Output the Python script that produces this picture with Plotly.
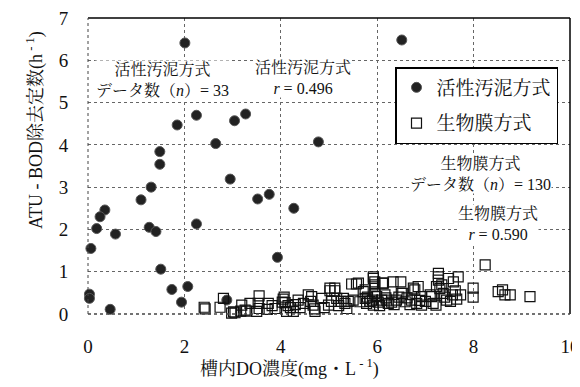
import plotly.graph_objects as go

# 活性汚泥方式 (n = 33)
as_x = [2.01, 6.51, 2.25, 1.85, 3.04, 3.27, 2.65, 1.49, 1.49, 2.95, 3.76, 3.52, 1.31, 1.10,
        0.35, 0.25, 0.18, 0.57, 1.27, 1.41, 2.25, 0.06, 1.51, 1.74, 2.07, 1.94, 0.03, 0.03,
        0.46, 2.88, 4.78, 4.27, 3.93]
as_y = [6.41, 6.48, 4.70, 4.47, 4.57, 4.73, 4.03, 3.84, 3.54, 3.19, 2.83, 2.72, 3.00, 2.70,
        2.46, 2.30, 2.02, 1.89, 2.05, 1.95, 2.13, 1.55, 1.06, 0.58, 0.65, 0.28, 0.47, 0.37,
        0.11, 0.33, 4.07, 2.50, 1.34]

# 生物膜方式 (n = 130)
bf_x = [2.41, 2.43, 2.74, 2.81, 2.98, 3.02, 3.05, 3.17, 3.26, 3.19, 3.36, 3.29, 3.55, 3.53, 3.50, 3.55,
        3.74, 3.72, 3.88, 3.82, 4.05, 4.07, 4.09, 4.12, 4.15, 4.03, 4.26, 4.20, 4.36, 4.47, 4.40, 4.30,
        4.57, 4.64, 4.67, 4.71, 4.62, 4.70, 4.85, 4.90, 4.99, 5.02, 5.02, 5.12, 5.12, 5.16, 5.05, 5.20,
        5.30, 5.33, 5.37, 5.25, 5.40, 5.47, 5.50,
        5.57, 5.61, 5.64, 5.71, 5.75, 5.75, 5.78, 5.80, 5.85, 5.92, 5.92, 5.95, 5.95, 5.95, 5.99, 5.92,
        5.90, 6.02, 6.09, 6.05, 6.11, 6.13, 6.16, 6.20, 6.23, 6.18, 6.30, 6.33, 6.40, 6.35, 6.45,
        6.49, 6.50, 6.53, 6.58, 6.62, 6.71, 6.68, 6.75, 6.78, 6.85, 6.82, 6.92, 6.92, 6.88, 7.00, 7.10,
        7.13, 7.16, 7.22, 7.27, 7.27, 7.27, 7.23, 7.30, 7.34, 7.37, 7.44, 7.40, 7.48,
        7.58, 7.68, 7.56, 7.73, 7.62, 7.99, 7.99, 8.24, 8.51, 8.60, 8.65, 8.76, 9.17, 7.52, 7.65]
bf_y = [0.16, 0.12, 0.16, 0.37, 0.02, 0.05, 0.03, 0.07, 0.09, 0.21, 0.25, 0.07, 0.43, 0.25, 0.06, 0.13,
        0.25, 0.11, 0.13, 0.20, 0.35, 0.40, 0.27, 0.06, 0.20, 0.28, 0.06, 0.15, 0.33, 0.25, 0.15, 0.22,
        0.45, 0.41, 0.21, 0.06, 0.30, 0.12, 0.37, 0.15, 0.21, 0.55, 0.61, 0.55, 0.61, 0.37, 0.30, 0.20,
        0.37, 0.25, 0.13, 0.30, 0.30, 0.71, 0.33,
        0.71, 0.73, 0.29, 0.53, 0.37, 0.57, 0.25, 0.40, 0.30, 0.84, 0.88, 0.69, 0.76, 0.49, 0.41, 0.21,
        0.33, 0.28, 0.33, 0.20, 0.73, 0.73, 0.45, 0.33, 0.25, 0.38, 0.28, 0.76, 0.33, 0.22, 0.40,
        0.76, 0.49, 0.49, 0.29, 0.38, 0.33, 0.22, 0.61, 0.57, 0.65, 0.25, 0.41, 0.21, 0.32, 0.30, 0.45,
        0.41, 0.25, 0.21, 0.96, 0.88, 0.80, 0.65, 0.60, 0.69, 0.49, 0.33, 0.40, 0.84,
        0.76, 0.88, 0.45, 0.45, 0.55, 0.61, 0.40, 1.16, 0.53, 0.57, 0.45, 0.45, 0.41, 0.30, 0.35]

x_ticks = [0, 2, 4, 6, 8, 10]
y_ticks = [0, 1, 2, 3, 4, 5, 6, 7]

SERIF = "Liberation Serif, Noto Serif CJK JP, Noto Sans CJK JP, serif"

fig = go.Figure()
fig.add_trace(go.Scatter(
    x=as_x, y=as_y, mode="markers", name="活性汚泥方式", legendgroup="as",
    marker=dict(symbol="circle", size=10, color="#222222", line=dict(color="#555555", width=1)),
    cliponaxis=False,
))
fig.add_trace(go.Scatter(
    x=bf_x, y=bf_y, mode="markers", name="生物膜方式", legendgroup="bf",
    marker=dict(symbol="square-open", size=10, color="#111111", line=dict(width=1.2)),
    cliponaxis=False,
))

axis_common = dict(
    showgrid=True, gridcolor="#666666", griddash="dot", gridwidth=1,
    zeroline=False, showline=False, ticks="outside", tickcolor="rgba(0,0,0,0)",
    automargin=False, ticklabeloverflow="allow",
    tickfont=dict(family=SERIF, size=19, color="#111111"),
)
fig.update_xaxes(range=[0, 10], tickvals=x_ticks, ticklen=15, **axis_common)
fig.update_yaxes(range=[0, 7], tickvals=y_ticks, ticklen=15, **axis_common)

# frame: top/right solid, left/bottom dotted
fig.add_shape(type="line", xref="paper", yref="paper", x0=0, x1=1, y0=1, y1=1,
              line=dict(color="black", width=1.5))
fig.add_shape(type="line", xref="paper", yref="paper", x0=1, x1=1, y0=0, y1=1,
              line=dict(color="black", width=1.5))
fig.add_shape(type="line", xref="paper", yref="paper", x0=0, x1=0, y0=0, y1=1,
              line=dict(color="#444444", width=1, dash="dot"))
fig.add_shape(type="line", xref="paper", yref="paper", x0=0, x1=1, y0=0, y1=0,
              line=dict(color="#444444", width=1.5, dash="dot"))

def ann(text, x, y, size=16):
    fig.add_annotation(text=text, x=x, y=y, xref="x", yref="y", showarrow=False,
                       xanchor="center", yanchor="middle", align="center",
                       font=dict(family=SERIF, size=size, color="#111111"),
                       bgcolor="white", borderpad=0)

ann("活性汚泥方式<br>データ数（<i>n</i>）= 33", 1.55, 5.53)
ann("活性汚泥方式<br><i>r</i> = 0.496", 4.47, 5.58)
ann("生物膜方式<br>データ数（<i>n</i>）= 130", 8.14, 3.31)
ann("生物膜方式<br><i>r</i> = 0.590", 8.51, 2.12)

fig.add_annotation(text="槽内DO濃度(mg・L<sup> - 1</sup>)", xref="paper", yref="paper",
                   x=(289 - 88) / 482, y=-(368 - 314) / 296, showarrow=False,
                   xanchor="center", yanchor="middle",
                   font=dict(family=SERIF, size=18, color="#111111"))
fig.add_annotation(text="ATU - BOD除去定数(h<sup> - 1</sup>)", xref="paper", yref="paper",
                   x=-(88 - 35) / 482, y=(314 - 130) / 296, showarrow=False, textangle=-90,
                   xanchor="center", yanchor="middle",
                   font=dict(family=SERIF, size=18, color="#111111"))

# page body has an 8px margin: compensate so the plot lands where the reference has it
fig.update_layout(
    width=572, height=379,
    margin=dict(l=80, r=10, t=10, b=73),
    paper_bgcolor="white", plot_bgcolor="white",
    showlegend=True,
    legend=dict(x=(395 - 88) / 482, y=(314 - 67) / 296, xanchor="left", yanchor="top",
                bgcolor="white", bordercolor="black", borderwidth=1.5,
                font=dict(family=SERIF, size=19, color="#111111"),
                itemsizing="trace", traceorder="grouped", tracegroupgap=8),
)

fig.write_html("out.html")
